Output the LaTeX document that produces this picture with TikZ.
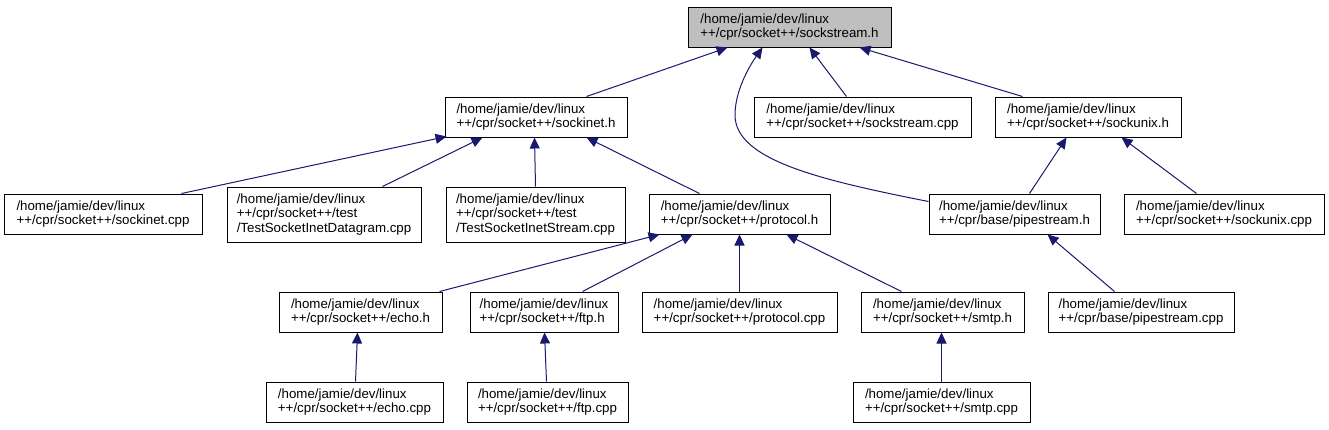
\documentclass[tikz,border=0pt]{standalone}
\usepackage{fontspec}
\setmainfont{Liberation Sans}
\usetikzlibrary{arrows.meta}
\newcommand\mkbox[7][box]{%
  \node[#1,minimum width={(#5-#3)*1pt},minimum height={(#6-#4)*1pt}] (#2) at ({(#3+#5)/2},{(#4+#6)/2}) {#7};}
\begin{document}
\begin{tikzpicture}[x=1pt,y=-1pt,
  box/.style={draw=black,fill=white,line width=1pt,inner sep=0pt,align=left,
    font=\fontsize{13.3}{14.3}\selectfont},
  rootbox/.style={box,fill=black!25},
  edge/.style={draw={rgb,255:red,25;green,25;blue,112},line width=1pt,
    -{Triangle[length=11pt,width=10pt]}}]
\useasboundingbox[fill=white] (0,0) rectangle (1329,429);
% nodes
\mkbox[rootbox]{sockstreamh}{688}{7}{891}{47}{/home/jamie/dev/linux\\++/cpr/socket++/sockstream.h}
\mkbox{sockineth}{445}{97}{627}{137}{/home/jamie/dev/linux\\++/cpr/socket++/sockinet.h}
\mkbox{sockstreamcpp}{754}{97}{971}{137}{/home/jamie/dev/linux\\++/cpr/socket++/sockstream.cpp}
\mkbox{sockunixh}{995}{97}{1181}{137}{/home/jamie/dev/linux\\++/cpr/socket++/sockunix.h}
\mkbox{sockinetcpp}{4}{194}{202}{234}{/home/jamie/dev/linux\\++/cpr/socket++/sockinet.cpp}
\mkbox{dgram}{227}{187}{421}{242}{/home/jamie/dev/linux\\++/cpr/socket++/test\\/TestSocketInetDatagram.cpp}
\mkbox{stream}{446}{187}{625}{242}{/home/jamie/dev/linux\\++/cpr/socket++/test\\/TestSocketInetStream.cpp}
\mkbox{protocolh}{649}{194}{830}{234}{/home/jamie/dev/linux\\++/cpr/socket++/protocol.h}
\mkbox{pipeh}{929}{194}{1100}{234}{/home/jamie/dev/linux\\++/cpr/base/pipestream.h}
\mkbox{sockunixcpp}{1124}{194}{1324}{234}{/home/jamie/dev/linux\\++/cpr/socket++/sockunix.cpp}
\mkbox{echoh}{279}{292}{442}{332}{/home/jamie/dev/linux\\++/cpr/socket++/echo.h}
\mkbox{ftph}{470}{292}{618}{332}{/home/jamie/dev/linux\\++/cpr/socket++/ftp.h}
\mkbox{protocolcpp}{642}{292}{837}{332}{/home/jamie/dev/linux\\++/cpr/socket++/protocol.cpp}
\mkbox{smtph}{861}{292}{1024}{332}{/home/jamie/dev/linux\\++/cpr/socket++/smtp.h}
\mkbox{pipecpp}{1048}{292}{1234}{332}{/home/jamie/dev/linux\\++/cpr/base/pipestream.cpp}
\mkbox{echocpp}{266}{382}{443}{422}{/home/jamie/dev/linux\\++/cpr/socket++/echo.cpp}
\mkbox{ftpcpp}{467}{382}{628}{422}{/home/jamie/dev/linux\\++/cpr/socket++/ftp.cpp}
\mkbox{smtpcpp}{853}{382}{1030}{422}{/home/jamie/dev/linux\\++/cpr/socket++/smtp.cpp}
% edges
\draw[edge] ([xshift=142pt]sockineth.north west) -- ([xshift=40pt]sockstreamh.south west);
\draw[edge] ([xshift=93pt]sockstreamcpp.north west) -- ([xshift=122pt]sockstreamh.south west);
\draw[edge] ([xshift=28pt]sockunixh.north west) -- ([xshift=172pt]sockstreamh.south west);
\draw[edge] ([yshift=-8pt]pipeh.north west) .. controls (820,180) and (735,160) .. (735,115)
   .. controls (735,92) and (748,68) .. ([xshift=75pt]sockstreamh.south west);
\draw[edge] ([xshift=178pt]sockinetcpp.north west) -- ([xshift=2pt,yshift=1pt]sockineth.south west);
\draw[edge] ([xshift=156pt]dgram.north west) -- ([xshift=38pt]sockineth.south west);
\draw[edge] ([xshift=90pt]stream.north west) -- ([xshift=90pt]sockineth.south west);
\draw[edge] ([xshift=51pt]protocolh.north west) -- ([xshift=142pt]sockineth.south west);
\draw[edge] ([xshift=101pt]pipeh.north west) -- ([xshift=72pt]sockunixh.south west);
\draw[edge] ([xshift=73pt]sockunixcpp.north west) -- ([xshift=127pt]sockunixh.south west);
\draw[edge] ([xshift=161pt]echoh.north west) -- ([xshift=11pt]protocolh.south west);
\draw[edge] ([xshift=113pt]ftph.north west) -- ([xshift=44pt]protocolh.south west);
\draw[edge] ([xshift=98pt]protocolcpp.north west) -- ([xshift=91pt]protocolh.south west);
\draw[edge] ([xshift=41pt]smtph.north west) -- ([xshift=138pt]protocolh.south west);
\draw[edge] ([xshift=67pt]pipecpp.north west) -- ([xshift=119pt]pipeh.south west);
\draw[edge] ([xshift=90pt]echocpp.north west) -- ([xshift=79pt]echoh.south west);
\draw[edge] ([xshift=80pt]ftpcpp.north west) -- ([xshift=75pt]ftph.south west);
\draw[edge] ([xshift=89pt]smtpcpp.north west) -- ([xshift=81pt]smtph.south west);
\end{tikzpicture}
\end{document}
